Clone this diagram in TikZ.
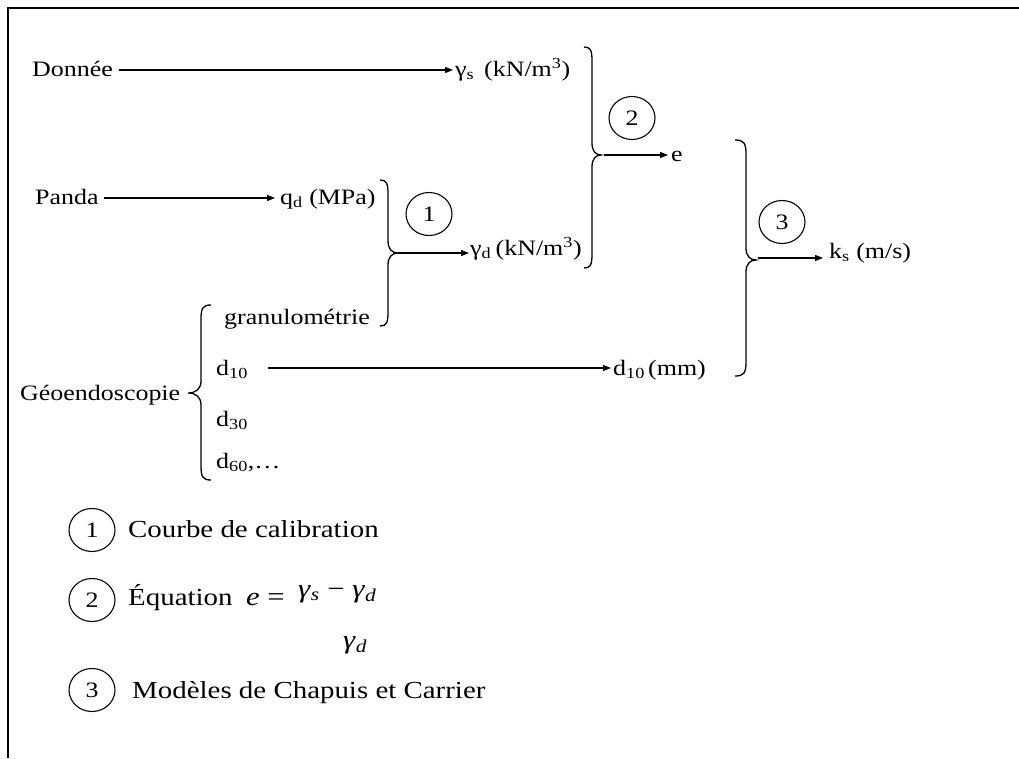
\documentclass[tikz,border=0pt]{standalone}
\usepackage{fontspec}
\setmainfont[FakeStretch=1.18]{Liberation Serif}
\usetikzlibrary{arrows.meta,shapes.geometric}
% brace: #1 x of vertical line, #2 top y, #3 bottom y, #4 tip y, #5 hook width, #6 tip extension
\newcommand{\mybrace}[6]{%
  \draw[brc] ({#1-#5},#2) .. controls ({#1-0.2*#5},#2) and (#1,{#2+3}) .. (#1,{#2+14}) -- (#1,{#4-12})
    .. controls (#1,{#4-4}) and ({#1+0.4*#6},#4) .. ({#1+#6},#4)
    .. controls ({#1+0.4*#6},#4) and (#1,{#4+4}) .. (#1,{#4+12}) -- (#1,{#3-14})
    .. controls (#1,{#3-3}) and ({#1-0.2*#5},#3) .. ({#1-#5},#3);}
\begin{document}
\begin{tikzpicture}[x=1pt,y=-1pt,
  font=\fontsize{22}{26}\selectfont,
  lbl/.style={anchor=base west, inner sep=0pt},
  leg/.style={anchor=base west, inner sep=0pt, font=\fontsize{24.5}{28}\selectfont},
  eq/.style={anchor=base west, inner sep=0pt, font=\fontsize{26}{30}\selectfont},
  arr/.style={-{Triangle[length=8pt,width=6pt]}, line width=1.2pt},
  circ/.style={draw, ellipse, line width=1.1pt, minimum width=46pt, minimum height=43pt, inner sep=0pt},
  brc/.style={line width=1.3pt},
  frame/.style={line width=1.6pt}]
\useasboundingbox (0,0) rectangle (1019,758);
\draw[frame] (1019,8) -- (8,8) -- (8,758);

% texts
\node[lbl] (don) at (32,76) {Donnée};
\node[lbl] (gs) at (455,76) {γ\textsubscript{s}\hspace{0.45em}(kN/m\textsuperscript{3})};
\node[lbl] (panda) at (35,204) {Panda};
\node[lbl] (qd) at (280,204) {q\textsubscript{d} (MPa)};
\node[lbl] (gd) at (470,255) {γ\textsubscript{d}\hspace{0.2em}(kN/m\textsuperscript{3})};
\node[lbl] (e) at (671,161) {e};
\node[lbl] (ks) at (829,258) {k\textsubscript{s} (m/s)};
\node[lbl] (gran) at (224,324) {granulométrie};
\node[lbl] (geo) at (20,400) {Géoendoscopie};
\node[lbl] (d10) at (216,375) {d\textsubscript{10}};
\node[lbl] (d10mm) at (613,375) {d\textsubscript{10}\hspace{0.15em}(mm)};
\node[lbl] (d30) at (216,426) {d\textsubscript{30}};
\node[lbl] (d60) at (216,468) {d\textsubscript{60},…};

% circles
\node[circ] (c1) at (429,214) {1};
\node[circ] (c2) at (632,118) {2};
\node[circ] (c3) at (782,222) {3};

% braces
\mybrace{388}{180}{326}{253}{8}{10}
\mybrace{592}{47}{268}{155}{8}{9}
\mybrace{746}{140}{376}{260}{11}{10}
\mybrace{201}{305}{480}{393}{-10}{-13}
\coordinate (b1) at (398,253);
\coordinate (b2) at (604,155);
\coordinate (b3) at (758,258);

% arrows
\draw[arr] ([xshift=6pt]don.east |- 0,70) -- ([xshift=-2pt]gs.west |- 0,70);
\draw[arr] ([xshift=5pt]panda.east |- 0,198) -- ([xshift=-5pt]qd.west |- 0,198);
\draw[arr] (b1) -- ([xshift=-1pt]gd.west |- b1);
\draw[arr] (b2) -- ([xshift=-3pt]e.west |- b2);
\draw[arr] (b3) -- ([xshift=-6pt]ks.west |- b3);
\draw[arr] ([xshift=20pt]d10.east |- 0,368) -- ([xshift=-2pt]d10mm.west |- 0,368);

% legend
\node[circ] (l1) at (92,530) {1};
\node[leg] (t1) at (128,537) {Courbe de calibration};
\node[circ] (l2) at (92,600) {2};
\node[leg] (t2) at (128,605) {Équation};
\node[eq] (eqe) at (246,605) {\textit{e} =};
\node[eq] (num) at (298,597) {\textit{γ}\textsubscript{\textit{s}} − \textit{γ}\textsubscript{\textit{d}}};
\node[eq] (den) at (343,648) {\textit{γ}\textsubscript{\textit{d}}};
\node[circ] (l3) at (92,690) {3};
\node[leg] (t3) at (132,698) {Modèles de Chapuis et Carrier};
\end{tikzpicture}
\end{document}
